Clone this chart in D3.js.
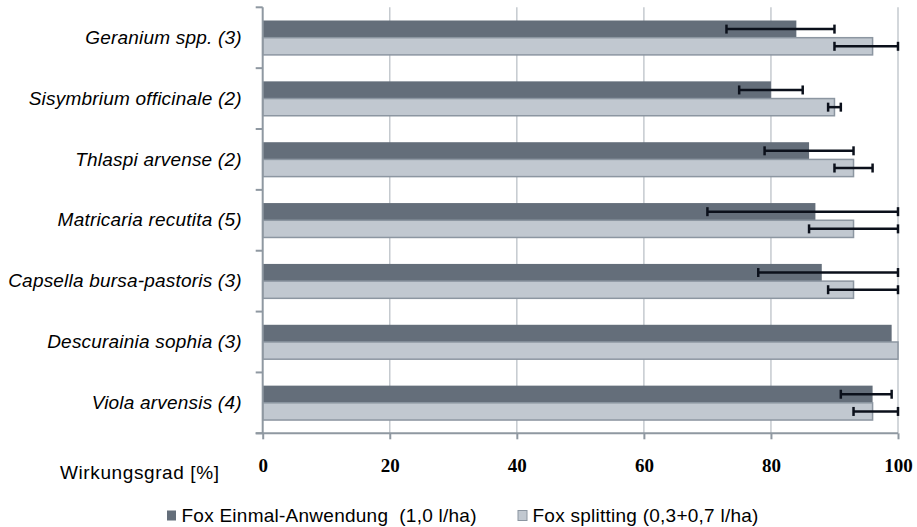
<!DOCTYPE html>
<html>
<head>
<meta charset="utf-8">
<script src="https://cdn.jsdelivr.net/npm/d3@7"></script>
<style>
  html, body { margin: 0; padding: 0; background: #fff; }
  svg { display: block; }
  text { white-space: pre; }
</style>
</head>
<body>
<svg id="chart" width="917" height="527"></svg>
<script>
// Weed species (number of trials), top to bottom
const categories = [
  "Geranium spp. (3)",
  "Sisymbrium officinale (2)",
  "Thlaspi arvense (2)",
  "Matricaria recutita (5)",
  "Capsella bursa-pastoris (3)",
  "Descurainia sophia (3)",
  "Viola arvensis (4)"
];
const seriesNames = ["Fox Einmal-Anwendung  (1,0 l/ha)", "Fox splitting (0,3+0,7 l/ha)"];

// Efficacy in % per species
const einmalValues = [84, 80, 86, 87, 88, 99, 96];
const splittingValues = [96, 90, 93, 93, 93, 100, 96];

// Error bar extents (low, high) in %; null = no error bar
const einmalLow   = [73, 75, 79, 70, 78, null, 91];
const einmalHigh  = [90, 85, 93, 100, 100, null, 99];
const splittingLow  = [90, 89, 90, 86, 89, null, 93];
const splittingHigh = [100, 91, 96, 100, 100, null, 100];

const xTicks = [0, 20, 40, 60, 80, 100];
const axisTitle = "Wirkungsgrad [%]";

const colors = ["#646e7a", "#c1c8d0"];
const strokeLight = "#8c96a1";
const axisColor = "#8f98a1";
const gridColor = "#c5cacf";
const errColor = "#0b101b";

const svg = d3.select("#chart");

const x = d3.scaleLinear().domain([0, 100]).range([262.7, 898]);
const y0 = d3.scaleBand().domain(categories).range([7.3, 433.3]).paddingInner(0).paddingOuter(0);
const y1 = d3.scaleBand().domain([0, 1]).range([13.2, 47.6]);

const rows = categories.map((c, i) => ({
  cat: c,
  bars: [
    { s: 0, v: einmalValues[i], lo: einmalLow[i], hi: einmalHigh[i] },
    { s: 1, v: splittingValues[i], lo: splittingLow[i], hi: splittingHigh[i] }
  ]
}));

// vertical gridlines
svg.append("g")
  .selectAll("line")
  .data(xTicks.filter(t => t > 0))
  .join("line")
  .attr("x1", d => x(d)).attr("x2", d => x(d))
  .attr("y1", y0.range()[0]).attr("y2", y0.range()[1])
  .attr("stroke", gridColor)
  .attr("stroke-width", 1.5);

// bars
const groups = svg.append("g")
  .selectAll("g")
  .data(rows)
  .join("g")
  .attr("transform", d => `translate(0,${y0(d.cat)})`);

groups.selectAll("rect")
  .data(d => d.bars)
  .join("rect")
  .attr("x", x(0))
  .attr("y", d => y1(d.s))
  .attr("width", d => x(d.v) - x(0))
  .attr("height", y1.bandwidth())
  .attr("fill", d => colors[d.s])
  .attr("stroke", d => d.s === 1 ? strokeLight : "none")
  .attr("stroke-width", 1.5);

// error bars
const errs = groups.selectAll("g.err")
  .data(d => d.bars.filter(b => b.lo !== null))
  .join("g")
  .attr("class", "err")
  .attr("transform", d => `translate(0,${y1(d.s) + y1.bandwidth() / 2})`);

errs.append("line")
  .attr("x1", d => x(d.lo)).attr("x2", d => x(d.hi))
  .attr("y1", 0).attr("y2", 0)
  .attr("stroke", errColor).attr("stroke-width", 2.5);
errs.append("line")
  .attr("x1", d => x(d.lo)).attr("x2", d => x(d.lo))
  .attr("y1", -4.5).attr("y2", 4.5)
  .attr("stroke", errColor).attr("stroke-width", 2.5);
errs.append("line")
  .attr("x1", d => x(d.hi)).attr("x2", d => x(d.hi))
  .attr("y1", -4.5).attr("y2", 4.5)
  .attr("stroke", errColor).attr("stroke-width", 2.5);

// left category axis
const yAxis = svg.append("g")
  .attr("transform", `translate(${x(0)},0)`)
  .call(d3.axisLeft(y0).tickSize(0).tickPadding(21));
yAxis.select(".domain").remove();
yAxis.selectAll("text")
  .attr("font-family", "'Liberation Sans', Arial, sans-serif")
  .attr("font-style", "italic")
  .attr("font-size", 19)
  .attr("letter-spacing", 0.2)
  .attr("fill", "#000");

const boundaries = categories.map(c => y0(c)).concat([y0.range()[1]]);
svg.append("g")
  .selectAll("line")
  .data(boundaries)
  .join("line")
  .attr("x1", x(0) - 7).attr("x2", x(0))
  .attr("y1", d => d).attr("y2", d => d)
  .attr("stroke", axisColor).attr("stroke-width", 2);
svg.append("line")
  .attr("x1", x(0)).attr("x2", x(0))
  .attr("y1", y0.range()[0]).attr("y2", y0.range()[1])
  .attr("stroke", axisColor).attr("stroke-width", 2);

// bottom value axis
const xAxis = svg.append("g")
  .attr("transform", `translate(0,${y0.range()[1]})`)
  .call(d3.axisBottom(x).tickValues(xTicks).tickSize(6).tickPadding(19));
xAxis.select(".domain").remove();
xAxis.selectAll(".tick line").attr("stroke", axisColor).attr("stroke-width", 2);
xAxis.selectAll("text")
  .attr("font-family", "'Liberation Serif', 'Times New Roman', serif")
  .attr("font-weight", "bold")
  .attr("font-size", 19)
  .attr("fill", "#000");
svg.append("line")
  .attr("x1", x(0) - 7).attr("x2", x(100))
  .attr("y1", y0.range()[1]).attr("y2", y0.range()[1])
  .attr("stroke", axisColor).attr("stroke-width", 2);

// axis title
svg.append("text")
  .attr("x", 60).attr("y", 479)
  .attr("font-family", "'Liberation Sans', Arial, sans-serif")
  .attr("font-size", 19)
  .attr("letter-spacing", 0.6)
  .attr("fill", "#000")
  .text(axisTitle);

// legend
const legendX = [166.5, 517.5];
const legend = svg.append("g")
  .selectAll("g")
  .data(seriesNames)
  .join("g")
  .attr("transform", (d, i) => `translate(${legendX[i]},510)`);
legend.append("rect")
  .attr("x", 0.5).attr("y", 0.5)
  .attr("width", 9).attr("height", 10)
  .attr("fill", (d, i) => colors[i])
  .attr("stroke", (d, i) => i === 1 ? strokeLight : "none");
legend.append("text")
  .attr("x", 15).attr("y", 12)
  .attr("font-family", "'Liberation Sans', Arial, sans-serif")
  .attr("font-size", 19)
  .attr("letter-spacing", 0.25)
  .attr("fill", "#000")
  .text(d => d);
</script>
</body>
</html>
